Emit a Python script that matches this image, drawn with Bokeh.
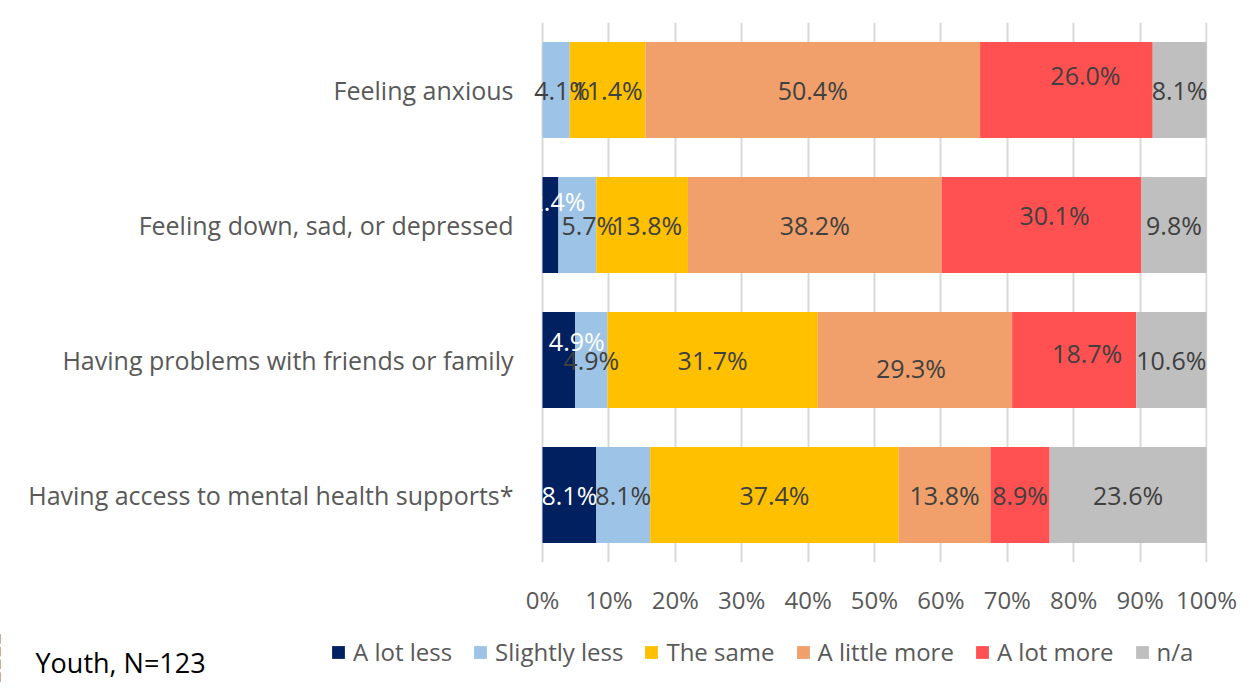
from bokeh.plotting import figure
from bokeh.models import (ColumnDataSource, FactorRange, Range1d, FixedTicker,
                          Legend, LegendItem, Label)
from bokeh.core.properties import value
from bokeh.embed import file_html
from bokeh.resources import INLINE

# ---------------- data ----------------
CATEGORIES = [
    "Feeling anxious",
    "Feeling down, sad, or depressed",
    "Having problems with friends or family",
    "Having access to mental health supports*",
]
SERIES = ["A lot less", "Slightly less", "The same", "A little more", "A lot more", "n/a"]

A_LOT_LESS = [0.0, 2.4, 4.9, 8.1]
SLIGHTLY_LESS = [4.1, 5.7, 4.9, 8.1]
THE_SAME = [11.4, 13.8, 31.7, 37.4]
A_LITTLE_MORE = [50.4, 38.2, 29.3, 13.8]
A_LOT_MORE = [26.0, 30.1, 18.7, 8.9]
NOT_APPLICABLE = [8.1, 9.8, 10.6, 23.6]

TICKS = [0, 10, 20, 30, 40, 50, 60, 70, 80, 90, 100]
TICK_LABELS = ["0%", "10%", "20%", "30%", "40%", "50%", "60%", "70%", "80%", "90%", "100%"]
NOTE = "Youth, N=123"

# ---------------- styles ----------------
COLORS = ["#002060", "#9DC3E6", "#FFC000", "#F1A06B", "#FF5151", "#BFBFBF"]
LABEL_COLORS = ["#FFFFFF", "#404040", "#404040", "#404040", "#404040", "#404040"]
FONT = "Open Sans"
# manual label nudges (pixels) per category row x series, as in the original
LABEL_DX = [
    [0, 6, 0, 0, 19, 0],
    [7, 12, 5, 0, 13, 0],
    [18, 0, 0, -4, 13, 0],
    [0, 0, 0, 0, 0, 0],
]
LABEL_DY = [
    [0, 0, 0, 0, -15, 0],
    [-24, 0, 0, 0, -10, 0],
    [-19, 0, 0, 8, -7, 0],
    [0, 0, 0, 0, 0, 0],
]

series_values = [A_LOT_LESS, SLIGHTLY_LESS, THE_SAME, A_LITTLE_MORE, A_LOT_MORE, NOT_APPLICABLE]
keys = ["s%d" % i for i in range(len(SERIES))]

# normalise each row to 100% (100% stacked bar)
totals = [sum(vals[i] for vals in series_values) for i in range(len(CATEGORIES))]
data = {"cat": CATEGORIES}
for k, vals in zip(keys, series_values):
    data[k] = [v / t * 100 for v, t in zip(vals, totals)]
source = ColumnDataSource(data)

# label positions
lx, ly, lt, lc, ldx, ldy = [], [], [], [], [], []
for i, cat in enumerate(CATEGORIES):
    left = 0.0
    for j, k in enumerate(keys):
        w = data[k][i]
        if series_values[j][i] > 0:
            lx.append(left + w / 2)
            ly.append(cat)
            lt.append("%.1f%%" % series_values[j][i])
            lc.append(LABEL_COLORS[j])
            ldx.append(LABEL_DX[i][j])
            ldy.append(LABEL_DY[i][j])
        left += w
label_source = ColumnDataSource(dict(x=lx, y=ly, text=lt, color=lc, dx=ldx, dy=ldy))

# ---------------- main chart ----------------
PX_PER_UNIT = 6.64
X_START = -14 / PX_PER_UNIT
X_END = 100 + 1 / PX_PER_UNIT
TOTAL_W = 528 + 679 + 35

p = figure(
    frame_width=679, frame_height=540,
    y_range=FactorRange(*reversed(CATEGORIES), range_padding=0),
    x_range=Range1d(X_START, X_END),
    output_backend="svg", toolbar_location=None,
    min_border_left=528, min_border_right=35, min_border_top=22, min_border_bottom=70,
)
p.outline_line_color = None
p.background_fill_color = "white"
p.border_fill_color = "white"

p.hbar_stack(keys, y="cat", height=0.71, color=COLORS, line_color=None, source=source)

p.text(x="x", y="y", text="text", text_color="color", x_offset="dx", y_offset="dy",
       text_align="center", text_baseline="middle",
       text_font=value(FONT), text_font_size="25px", source=label_source)

ticker = FixedTicker(ticks=TICKS)
p.xaxis.ticker = ticker
p.xaxis.major_label_overrides = {t: l for t, l in zip(TICKS, TICK_LABELS)}
p.xgrid.ticker = ticker
p.xgrid.grid_line_color = "#D9D9D9"
p.xgrid.grid_line_width = 2
p.ygrid.grid_line_color = None

for ax in (p.xaxis[0], p.yaxis[0]):
    ax.axis_line_color = None
    ax.major_tick_line_color = None
    ax.minor_tick_line_color = None
    ax.major_tick_out = 0
    ax.major_tick_in = 0
    ax.major_label_text_font = FONT
    ax.major_label_text_color = "#595959"

p.xaxis.major_label_text_font_size = "24px"
p.xaxis.major_label_standoff = 20
p.yaxis.major_label_text_font_size = "25px"
p.yaxis.major_label_standoff = 15

# ---------------- legend strip (separate root, full-width frame) ----------------
LEG_H = 51
p2 = figure(
    width=TOTAL_W, height=LEG_H,
    x_range=Range1d(100.5, 101.5), y_range=FactorRange(*CATEGORIES),
    x_axis_location=None, y_axis_location=None,
    output_backend="svg", toolbar_location=None,
    min_border=0, min_border_left=0, min_border_right=0, min_border_top=0, min_border_bottom=0,
)
p2.outline_line_color = None
p2.background_fill_color = "white"
p2.border_fill_color = "white"
p2.grid.visible = False

# same series, scrolled out of view: used only as legend swatches
proxies = p2.hbar_stack(keys, y="cat", height=0.71, color=COLORS, line_color=None, source=source)

legend = Legend(
    items=[LegendItem(label=name, renderers=[r]) for name, r in zip(SERIES, proxies)],
    orientation="horizontal", location=(330, 15),
    padding=0, margin=0, spacing=20,
    glyph_width=16, glyph_height=16, label_standoff=7, label_height=24,
    label_text_font=FONT, label_text_font_size="24px", label_text_color="#595959",
    border_line_color=None, background_fill_alpha=0,
)
p2.add_layout(legend, "center")

note = Label(x=35, y=21, x_units="screen", y_units="screen", text=NOTE,
             text_font=FONT, text_font_size="27px", text_color="#000000",
             text_baseline="middle")
p2.add_layout(note)

open("out.html", "w").write(file_html([p, p2], INLINE))
